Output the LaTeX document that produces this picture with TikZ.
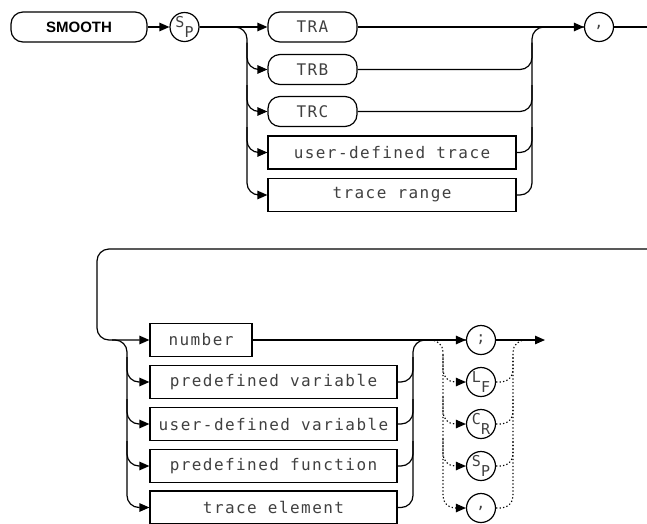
\documentclass[tikz,border=0pt]{standalone}
\usepackage{fontspec}
\newfontfamily\hpfont[LetterSpace=9]{DejaVu Sans Mono}
\newfontfamily\hpchar{DejaVu Sans Mono}
\newfontfamily\hpbold{Liberation Sans}
\usetikzlibrary{arrows.meta, positioning}

\newcommand{\subpair}[2]{\raisebox{4.5pt}{#1}\raisebox{-5.5pt}{#2}}

\begin{document}
\begin{tikzpicture}[
    x=1pt, y=-1pt,
    line width=1.2pt,
    every node/.style={font=\hpfont\fontsize{16}{18}\selectfont, text=black!75},
    keyword/.style={rectangle, draw, rounded corners=12pt, minimum height=30pt, inner sep=0pt},
    param/.style={rectangle, draw, minimum height=33pt, inner sep=0pt},
    term/.style={circle, draw, minimum size=29pt, inner sep=0pt, font=\hpchar\fontsize{15}{17}\selectfont},
    dotline/.style={dash pattern=on 1.3pt off 2.2pt, line width=1.1pt},
    >={Triangle[length=10pt, width=8.5pt]},
]
\useasboundingbox (0,0) rectangle (647,523);

% first line of the syntax
\node[keyword, minimum width=136pt, text=black, font=\hpbold\bfseries\fontsize{15}{17}\selectfont] (smooth) at (79,27) {SMOOTH};
\node[term] (sp) at (184.5,27) {\subpair{S}{P}};
\node[keyword, minimum width=89pt] (tra) at (312.5,27) {TRA};
\node[keyword, minimum width=89pt] (trb) at (312.5,69.5) {TRB};
\node[keyword, minimum width=89pt] (trc) at (312.5,111.5) {TRC};
\node[param, minimum width=248pt] (udt) at (392,152.5) {user-defined trace};
\node[param, minimum width=248pt] (tr) at (392,195) {trace range};
\node[term] (comma) at (599,27) {,};

\coordinate (fork) at (247,27);
\coordinate (join) at (532,27);
\coordinate (topout) at (647,27);

\draw[->] (smooth) -- (sp);
\draw[->] (sp) -- (tra);
\draw[->, rounded corners=12pt] (sp.east) -| (fork |- tr.west) -- (tr.west);
\draw[->, rounded corners=12pt] (fork |- tra.south) |- (trb.west);
\draw[->, rounded corners=12pt] (fork |- trb.south) |- (trc.west);
\draw[->, rounded corners=12pt] (fork |- trc.south) |- (udt.west);
\draw[->] (tra) -- (comma);
\draw[rounded corners=12pt] (tr.east) -| (join) -- (comma.west);
\draw[rounded corners=12pt] (trb.east) -| (join |- tra.south);
\draw[rounded corners=12pt] (trc.east) -| (join |- trb.south);
\draw[rounded corners=12pt] (udt.east) -| (join |- trc.south);
\draw (comma) -- (topout);

% second line of the syntax
\node[param, minimum width=102pt] (num) at (201,340) {number};
\node[param, minimum width=247pt] (pv) at (273.5,382) {predefined variable};
\node[param, minimum width=247pt] (udv) at (273.5,424) {user-defined variable};
\node[param, minimum width=247pt] (pf) at (273.5,466) {predefined function};
\node[param, minimum width=247pt] (te) at (273.5,507.5) {trace element};
\node[term] (semi) at (481,340) {;};
\node[term] (lf) at (481,382) {\subpair{L}{F}};
\node[term] (cr) at (481,424) {\subpair{C}{R}};
\node[term] (sp2) at (481,466) {\subpair{S}{P}};
\node[term] (c2) at (481,508) {,};

\coordinate (wrapR) at (647,249);
\coordinate (wrapL) at (97,249);
\coordinate (turn) at (112,340);
\coordinate (fork2) at (127,340);
\coordinate (join2) at (413,340);
\coordinate (dfork) at (443,340);
\coordinate (djoin) at (513,340);
\coordinate (endpt) at (545,340);

\draw[->, rounded corners=12pt] (wrapR) -| (wrapL |- num.west) -- (num.west);
\draw[->, rounded corners=12pt] (turn) -| (fork2 |- te.west) -- (te.west);
\draw[->, rounded corners=12pt] (fork2 |- num.south) |- (pv.west);
\draw[->, rounded corners=12pt] (fork2 |- pv.south) |- (udv.west);
\draw[->, rounded corners=12pt] (fork2 |- udv.south) |- (pf.west);
\draw[->] (num) -- (semi);
\draw[rounded corners=12pt] (te.east) -| (join2) -- (semi.west);
\draw[rounded corners=12pt] (pv.east) -| (join2 |- num.south);
\draw[rounded corners=12pt] (udv.east) -| (join2 |- pv.south);
\draw[rounded corners=12pt] (pf.east) -| (join2 |- udv.south);
\draw[->] (semi) -- (endpt);

% optional terminators
\draw[dotline, ->, rounded corners=12pt] (join2) -| (dfork |- c2.west) -- (c2.west);
\draw[dotline, ->, rounded corners=12pt] (dfork |- semi.south) |- (lf.west);
\draw[dotline, ->, rounded corners=12pt] (dfork |- lf.south) |- (cr.west);
\draw[dotline, ->, rounded corners=12pt] (dfork |- cr.south) |- (sp2.west);
\draw[dotline, rounded corners=12pt] (c2.east) -| (djoin) -- (endpt);
\draw[dotline, rounded corners=12pt] (lf.east) -| (djoin |- semi.south);
\draw[dotline, rounded corners=12pt] (cr.east) -| (djoin |- lf.south);
\draw[dotline, rounded corners=12pt] (sp2.east) -| (djoin |- cr.south);
\end{tikzpicture}
\end{document}
